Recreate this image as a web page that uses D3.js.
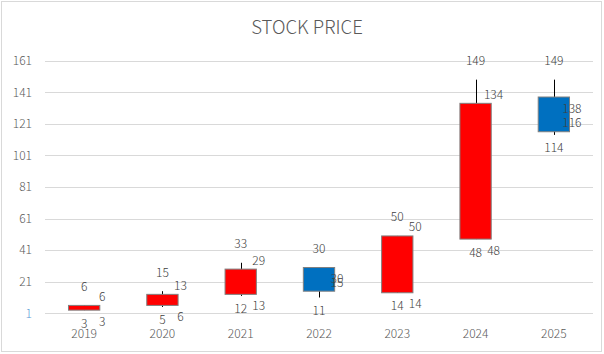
<!DOCTYPE html>
<html>
<head>
<meta charset="utf-8">
<script src="https://cdn.jsdelivr.net/npm/d3@7"></script>
<style>
  body { margin: 0; background: #fff; }
  text { font-family: 'Noto Sans CJK KR', 'Noto Sans', sans-serif; font-weight: 300; }
</style>
</head>
<body>
<div id="chart"></div>
<script>
// stock prices per year
const years = ['2019', '2020', '2021', '2022', '2023', '2024', '2025']
const open = [3, 6, 13, 30, 14, 48, 138]
const high = [6, 15, 33, 30, 50, 149, 149]
const low = [3, 5, 12, 11, 14, 48, 114]
const close = [6, 13, 29, 15, 50, 134, 116]
const yTicks = [1, 21, 41, 61, 81, 101, 121, 141, 161]

const data = years.map((y, i) => ({
  year: y, open: open[i], high: high[i], low: low[i], close: close[i]
}))

const W = 604
const H = 354
const plot = { left: 45, right: 593, top: 60.7, bottom: 313.3 }

const svg = d3.select('#chart').append('svg')
  .attr('width', W)
  .attr('height', H)

// chart border
svg.append('rect')
  .attr('x', 1.5).attr('y', 1.5)
  .attr('width', 600).attr('height', 350)
  .attr('fill', '#fff')
  .attr('stroke', '#d9d9d9')

svg.append('text')
  .attr('x', 307)
  .attr('y', 34)
  .attr('text-anchor', 'middle')
  .attr('fill', '#595959')
  .style('font-size', '18.6px')
  .text('STOCK PRICE')

const x = d3.scaleBand()
  .domain(years)
  .range([plot.left, plot.right])

const y = d3.scaleLinear()
  .domain([1, 161])
  .range([plot.bottom, plot.top])

// gridlines
svg.append('g')
  .selectAll('line')
  .data(yTicks)
  .enter().append('line')
  .attr('x1', plot.left)
  .attr('x2', plot.right)
  .attr('y1', d => Math.round(y(d)) + 0.5)
  .attr('y2', d => Math.round(y(d)) + 0.5)
  .attr('stroke', '#d9d9d9')

// y axis labels
const yAxis = d3.axisLeft(y)
  .tickValues(yTicks)
  .tickSize(0)
  .tickPadding(13)

const gy = svg.append('g')
  .attr('transform', `translate(${plot.left}, 0)`)
  .call(yAxis)
gy.select('.domain').remove()
gy.selectAll('text')
  .attr('fill', d => d === 1 ? '#5b9bd5' : '#595959')
  .style('font-size', '12px')
  .style('font-family', "'Noto Sans CJK KR', sans-serif")

// x axis labels
const xAxis = d3.axisBottom(x)
  .tickSize(0)
  .tickPadding(0)

const gx = svg.append('g')
  .attr('transform', `translate(0, 329)`)
  .call(xAxis)
gx.select('.domain').remove()
gx.selectAll('text')
  .attr('fill', '#595959')
  .style('font-size', '12px')
  .style('font-family', "'Noto Sans CJK KR', sans-serif")

const bw = x.bandwidth() * 0.4
const cx = d => x(d.year) + x.bandwidth() / 2

const candles = svg.append('g')
  .selectAll('g')
  .data(data)
  .enter().append('g')

// wicks
candles.append('line')
  .attr('x1', d => Math.round(cx(d)) + 0.5)
  .attr('x2', d => Math.round(cx(d)) + 0.5)
  .attr('y1', d => y(d.high))
  .attr('y2', d => y(d.low))
  .attr('stroke', '#000')

// up / down bars
candles.append('rect')
  .attr('x', d => cx(d) - bw / 2)
  .attr('y', d => y(Math.max(d.open, d.close)))
  .attr('width', bw)
  .attr('height', d => Math.max(1, Math.abs(y(d.open) - y(d.close))))
  .attr('fill', d => d.close > d.open ? '#ff0000' : '#0070c0')
  .attr('stroke', '#808080')

// data labels
const labelStyle = sel => sel
  .attr('text-anchor', 'middle')
  .attr('dominant-baseline', 'central')
  .attr('fill', '#404040')
  .style('font-size', '12px')

candles.append('text') // high
  .call(labelStyle)
  .attr('x', cx)
  .attr('y', d => y(d.high) - 20)
  .text(d => d.high)

candles.append('text') // low
  .call(labelStyle)
  .attr('x', cx)
  .attr('y', d => y(d.low) + 12)
  .text(d => d.low)

candles.append('text') // open, sits a bit below its level
  .call(labelStyle)
  .attr('x', d => cx(d) + 18)
  .attr('y', d => y(d.open) + 10)
  .text(d => d.open)

candles.append('text') // close, sits a bit above its level
  .call(labelStyle)
  .attr('x', d => cx(d) + 18)
  .attr('y', d => y(d.close) - 10)
  .text(d => d.close)
</script>
</body>
</html>
